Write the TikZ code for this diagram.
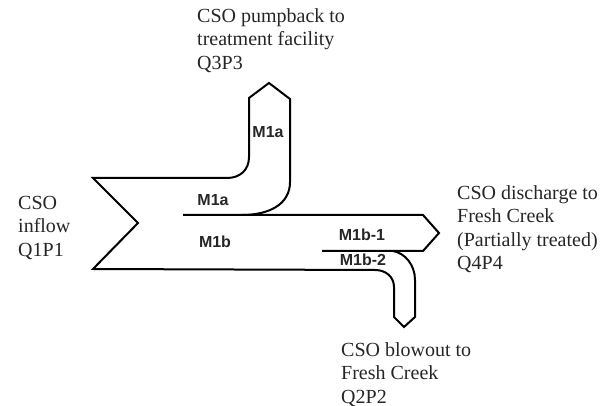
\documentclass[tikz,border=0pt]{standalone}
\usepackage{fontspec}
\setmainfont{Liberation Serif}
\newfontfamily\zonefont{Liberation Sans}
\usepackage{tikz}
\usetikzlibrary{positioning}

\tikzset{
  flowline/.style={line width=2pt, line join=miter},
  endnote/.style={anchor=north west, align=left, inner sep=0pt, text=black!85,
    font=\fontsize{20}{23.5}\selectfont},
  zone/.style={inner sep=0pt, text=black!85, font=\zonefont\bfseries\fontsize{16}{19}\selectfont},
}

\begin{document}
\begin{tikzpicture}[x=1pt,y=-1pt]
  \useasboundingbox (0,0) rectangle (608,406);

  % divider lines inside the main channel
  \draw[flowline] (183,215) -- (423,215) -- (439,233) -- (423,251) -- (322,251);

  % outline: pumpback pipe, inflow tail, blowout pipe
  \draw[flowline] (242,215) .. controls (268,215) and (290,205) .. (290,182)
    -- (290,99) -- (269,83) -- (249,98) -- (249,157)
    .. controls (249,170) and (240,178) .. (227,178)
    -- (93,178) -- (138,223) -- (93,269) -- (375,270)
    .. controls (386,270) and (394,277) .. (394,287)
    -- (394,317) -- (404,327) -- (415,317) -- (415,280)
    .. controls (415,265) and (405,253) .. (393,251);

  \node[zone] (m1aup) at (268,132) {M1a};
  \node[zone] (m1a) at (213,200) {M1a};
  \node[zone] (m1b) at (215,242) {M1b};
  \node[zone] (m1b1) at (362,235) {M1b-1};
  \node[zone] (m1b2) at (363,260) {M1b-2};

  \node[endnote] (pumpback) at (197,8) {CSO pumpback to\\treatment facility\\Q3P3};
  \node[endnote] (inflow) at (18,196) {CSO\\inflow\\Q1P1};
  \node[endnote] (discharge) at (457,185) {CSO discharge to\\Fresh Creek\\(Partially treated)\\Q4P4};
  \node[endnote] (blowout) at (341,342) {CSO blowout to\\Fresh Creek\\Q2P2};
\end{tikzpicture}
\end{document}
